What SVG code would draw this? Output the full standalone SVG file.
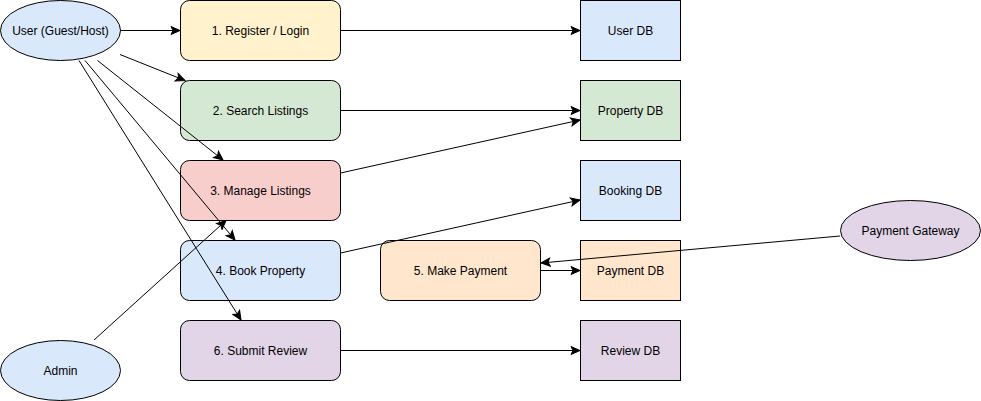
<svg xmlns="http://www.w3.org/2000/svg" width="981" height="401" viewBox="0 0 981 401">
<style>
.n{stroke:#000;stroke-width:1}
.t{font-family:"Liberation Sans",Arial,sans-serif;font-size:12px;fill:#000;text-anchor:middle;dominant-baseline:central}
.e{fill:none;stroke:#000;stroke-width:1;marker-end:url(#arr)}
</style>
<defs>
<marker id="arr" markerUnits="userSpaceOnUse" markerWidth="12" markerHeight="10" refX="10" refY="5" orient="auto" viewBox="0 0 12 10">
<path d="M1,1 L10,5 L1,9 L3,5 Z" fill="#000" stroke="#000" stroke-width="1"/>
</marker>
</defs>
<rect width="981" height="401" fill="#fff"/>
<g id="user"><ellipse class="n" cx="60.5" cy="30.5" rx="60" ry="30" fill="#dae8fc"/><text class="t" x="60.5" y="30.5">User (Guest/Host)</text></g>
<g id="admin"><ellipse class="n" cx="60.5" cy="370.5" rx="60" ry="30" fill="#dae8fc"/><text class="t" x="60.5" y="370.5">Admin</text></g>
<g id="register"><rect class="n" x="180.5" y="0.5" width="160" height="60" rx="9" fill="#fff2cc"/><text class="t" x="260.5" y="30.5">1. Register / Login</text></g>
<g id="search"><rect class="n" x="180.5" y="80.5" width="160" height="60" rx="9" fill="#d5e8d4"/><text class="t" x="260.5" y="110.5">2. Search Listings</text></g>
<g id="manage"><rect class="n" x="180.5" y="160.5" width="160" height="60" rx="9" fill="#f8cecc"/><text class="t" x="260.5" y="190.5">3. Manage Listings</text></g>
<g id="book"><rect class="n" x="180.5" y="240.5" width="160" height="60" rx="9" fill="#dae8fc"/><text class="t" x="260.5" y="270.5">4. Book Property</text></g>
<g id="payment"><rect class="n" x="380.5" y="240.5" width="160" height="60" rx="9" fill="#ffe6cc"/><text class="t" x="460.5" y="270.5">5. Make Payment</text></g>
<g id="review"><rect class="n" x="180.5" y="320.5" width="160" height="60" rx="9" fill="#e1d5e7"/><text class="t" x="260.5" y="350.5">6. Submit Review</text></g>
<g id="userdb"><rect class="n" x="580.5" y="0.5" width="100" height="60" fill="#dae8fc"/><text class="t" x="630.5" y="30.5">User DB</text></g>
<g id="propertydb"><rect class="n" x="580.5" y="80.5" width="100" height="60" fill="#d5e8d4"/><text class="t" x="630.5" y="110.5">Property DB</text></g>
<g id="bookingdb"><rect class="n" x="580.5" y="160.5" width="100" height="60" fill="#dae8fc"/><text class="t" x="630.5" y="190.5">Booking DB</text></g>
<g id="paymentdb"><rect class="n" x="580.5" y="240.5" width="100" height="60" fill="#ffe6cc"/><text class="t" x="630.5" y="270.5">Payment DB</text></g>
<g id="reviewdb"><rect class="n" x="580.5" y="320.5" width="100" height="60" fill="#e1d5e7"/><text class="t" x="630.5" y="350.5">Review DB</text></g>
<g id="gateway"><ellipse class="n" cx="910.5" cy="230.5" rx="70" ry="30" fill="#e1d5e7"/><text class="t" x="910.5" y="230.5">Payment Gateway</text></g>
<g id="connectors">
<line class="e" x1="120.5" y1="30.5" x2="180" y2="30.5"/>
<line class="e" x1="120" y1="54.5" x2="185" y2="80.5"/>
<line class="e" x1="97.5" y1="60.5" x2="223" y2="160"/>
<line class="e" x1="85" y1="60.5" x2="235" y2="240"/>
<line class="e" x1="79" y1="60.5" x2="241" y2="320"/>
<line class="e" x1="94" y1="340" x2="226" y2="220.5"/>
<line class="e" x1="340.5" y1="30.5" x2="580" y2="30.5"/>
<line class="e" x1="340.5" y1="110.5" x2="580" y2="110.5"/>
<line class="e" x1="340.5" y1="173" x2="580" y2="120"/>
<line class="e" x1="340.5" y1="253" x2="580" y2="200"/>
<line class="e" x1="540.5" y1="270.5" x2="580" y2="270.5"/>
<line class="e" x1="840" y1="236" x2="541" y2="263"/>
<line class="e" x1="340.5" y1="350.5" x2="580" y2="350.5"/>
</g>
</svg>
